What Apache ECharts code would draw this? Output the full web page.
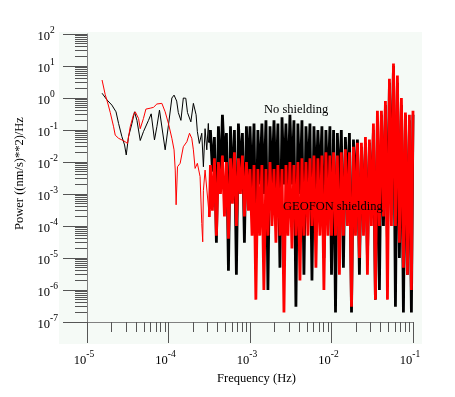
<!DOCTYPE html>
<html>
<head>
<meta charset="utf-8">
<script src="https://cdn.jsdelivr.net/npm/echarts@6/dist/echarts.min.js"></script>
<style>
html, body { margin: 0; padding: 0; background: #fff; }
#chart { width: 455px; height: 397px; }
</style>
</head>
<body>
<div id="chart"></div>
<script>
// ---- axis ticks ----
const xTicks = [1e-5, 1e-4, 1e-3, 1e-2, 1e-1];
const xTickExp = ['-5', '-4', '-3', '-2', '-1'];
const yTicks = [1e-7, 1e-6, 1e-5, 1e-4, 1e-3, 1e-2, 1e-1, 1e0, 1e1, 1e2];
const yTickExp = ['-7', '-6', '-5', '-4', '-3', '-2', '-1', '0', '1', '2'];
const minorMantissa = [2, 3, 4, 5, 6, 7, 8, 9];

// ---- low frequency part (smooth curves) ----
const blackLowFreq = [1.53e-5, 1.76e-5, 2.02e-5, 2.27e-5, 2.44e-5, 2.68e-5, 2.89e-5, 3.03e-5, 3.23e-5, 3.56e-5,
  3.83e-5, 4.1e-5, 4.5e-5, 4.93e-5, 5.68e-5, 6.13e-5, 6.73e-5, 7.2e-5, 7.75e-5, 9.1e-5,
  9.98e-5, 1.1e-4, 1.17e-4, 1.26e-4, 1.32e-4, 1.42e-4, 1.52e-4, 1.63e-4, 1.71e-4, 1.88e-4,
  2.02e-4, 2.18e-4, 2.26e-4, 2.39e-4, 2.56e-4, 2.68e-4, 2.81e-4, 2.95e-4, 3.08e-4, 3.17e-4];
const blackLowPow = [1.41, 0.87, 0.6, 0.37, 0.16, 0.062, 0.034, 0.0166, 0.062, 0.16,
  0.37, 0.2, 0.047, 0.089, 0.2, 0.32, 0.049, 0.126, 0.42, 0.024,
  0.14, 1.0, 1.23, 0.8, 0.35, 0.2, 1.0, 0.98, 0.35, 0.18,
  0.68, 0.3, 0.089, 0.038, 0.079, 0.0071, 0.11, 0.024, 0.16, 0.04];

const redLowFreq = [1.53e-5, 1.67e-5, 1.81e-5, 1.93e-5, 2.12e-5, 2.22e-5, 2.44e-5, 2.68e-5, 2.94e-5, 3.14e-5,
  3.39e-5, 3.72e-5, 3.91e-5, 4.29e-5, 4.5e-5, 4.93e-5, 5.28e-5, 5.96e-5, 6.54e-5, 7.2e-5,
  8.29e-5, 9.1e-5, 9.98e-5, 1.1e-4, 1.17e-4, 1.21e-4, 1.24e-4, 1.29e-4, 1.39e-4, 1.52e-4,
  1.68e-4, 1.81e-4, 1.93e-4, 2.02e-4, 2.12e-4, 2.26e-4, 2.44e-4, 2.56e-4, 2.63e-4, 2.68e-4,
  2.81e-4, 2.95e-4, 3.17e-4];
const redLowPow = [3.65, 1.3, 0.65, 0.35, 0.126, 0.069, 0.055, 0.049, 0.043, 0.038,
  0.126, 0.3, 0.37, 0.23, 0.11, 0.23, 0.45, 0.48, 0.51, 0.65,
  0.68, 0.37, 0.16, 0.055, 0.024, 0.0056, 4.6e-4, 0.0071, 0.0091, 0.03,
  0.043, 0.079, 0.055, 0.024, 0.0063, 0.0091, 0.0035, 1.2e-4, 3.2e-5, 0.0013,
  0.0056, 0.0063, 1.9e-4];

// ---- noisy band (peaks and troughs alternate) ----
const bandFreq = [
  3.27e-4, 3.46e-4, 3.66e-4, 3.87e-4, 4.10e-4, 4.34e-4, 4.59e-4, 4.86e-4, 5.14e-4, 5.44e-4,
  5.76e-4, 6.09e-4, 6.44e-4, 6.81e-4, 7.21e-4, 7.63e-4, 8.07e-4, 8.54e-4, 9.04e-4, 9.56e-4,
  1.00e-3, 1.06e-3, 1.12e-3, 1.18e-3, 1.25e-3, 1.32e-3, 1.40e-3, 1.48e-3, 1.57e-3, 1.66e-3,
  1.76e-3, 1.86e-3, 1.97e-3, 2.08e-3, 2.20e-3, 2.33e-3, 2.47e-3, 2.61e-3, 2.76e-3, 2.92e-3,
  3.09e-3, 3.27e-3, 3.46e-3, 3.66e-3, 3.87e-3, 4.10e-3, 4.34e-3, 4.59e-3, 4.86e-3, 5.14e-3,
  5.44e-3, 5.76e-3, 6.09e-3, 6.44e-3, 6.81e-3, 7.21e-3, 7.63e-3, 8.07e-3, 8.54e-3, 9.04e-3,
  9.56e-3,
  1.00e-2, 1.06e-2, 1.12e-2, 1.18e-2, 1.25e-2, 1.32e-2, 1.40e-2, 1.48e-2, 1.57e-2, 1.66e-2,
  1.76e-2, 1.86e-2, 1.97e-2, 2.08e-2, 2.20e-2, 2.33e-2, 2.47e-2, 2.61e-2, 2.76e-2, 2.92e-2,
  3.09e-2, 3.27e-2, 3.46e-2, 3.66e-2, 3.87e-2, 4.10e-2, 4.34e-2, 4.59e-2, 4.86e-2, 5.14e-2,
  5.44e-2, 5.76e-2, 6.09e-2, 6.44e-2, 6.81e-2, 7.21e-2, 7.63e-2, 8.07e-2, 8.54e-2, 9.04e-2,
  9.56e-2, 1.00e-1];

const blackBand = [
  1e-1, 5e-3, 6e-2, 3e-5, 1.3e-1, 2e-3, 3e-1, 1e-2, 8e-2, 4e-6,
  1.3e-1, 1e-3, 1e-1, 3e-6, 1.6e-1, 5e-3, 8e-2, 3e-5, 1.3e-1, 2e-3,
  1.3e-1, 1e-3, 1.6e-1, 1e-5, 1e-1, 2e-3, 1.6e-1, 1e-3, 2e-1, 1e-6,
  1.3e-1, 2e-3, 2e-1, 1e-3, 1.6e-1, 5e-6, 2.5e-1, 2e-3, 1.6e-1, 1e-3,
  3e-1, 2e-3, 2e-1, 3e-7, 1.6e-1, 1e-3, 2e-1, 3e-6, 1.3e-1, 2e-3,
  1.6e-1, 2e-6, 1.3e-1, 1e-3, 1e-1, 2e-3, 1.3e-1, 1e-5, 1e-1, 1e-3,
  1.3e-1,
  3e-6, 1e-1, 2e-7, 8e-2, 1e-3, 1e-1, 5e-6, 6e-2, 1e-3, 8e-2,
  2e-7, 5e-2, 1e-3, 5e-2, 3e-6, 3e-2, 1e-4, 4e-2, 1e-5, 4e-2,
  3e-4, 1e-1, 5e-7, 2e-1, 1e-6, 3e-1, 1e-4, 6e-1, 3e-5, 3,
  1e-3, 1e1, 3e-7, 3, 1e-5, 6e-1, 2e-7, 3e-1, 3e-6, 2e-1,
  2e-7, 3e-1];

const redBand = [
  8e-3, 3e-4, 1.3e-2, 5e-5, 1e-2, 1e-3, 1.6e-2, 2e-4, 1e-2, 4e-5,
  1.3e-2, 5e-4, 2e-2, 1e-4, 1.3e-2, 1e-3, 1.6e-2, 2e-4, 1e-2, 3e-4,
  6e-3, 5e-5, 8e-3, 5e-7, 6e-3, 5e-5, 8e-3, 1e-6, 6e-3, 5e-5,
  1e-2, 1e-4, 6e-3, 3e-5, 8e-3, 5e-5, 6e-3, 2e-7, 8e-3, 5e-5,
  1e-2, 2e-5, 8e-3, 5e-5, 1e-2, 2e-6, 1.3e-2, 5e-5, 1e-2, 5e-5,
  1.3e-2, 1e-4, 1.6e-2, 5e-6, 1.3e-2, 5e-5, 1.6e-2, 1e-6, 2e-2, 5e-5,
  1.6e-2,
  5e-5, 2e-2, 5e-5, 1.6e-2, 3e-6, 2e-2, 5e-5, 2.5e-2, 1e-4, 2e-2,
  3e-7, 3e-2, 5e-5, 4e-2, 1e-5, 4e-2, 5e-5, 6e-2, 3e-6, 5e-2,
  1e-4, 1.6e-1, 5e-7, 4e-1, 1e-4, 4e-1, 2e-4, 8e-1, 5e-7, 4,
  1e-4, 1.2e1, 1e-4, 5, 3e-5, 1, 5e-6, 3.5e-1, 3e-6, 3e-1,
  1e-6, 4e-1];

// ---- chart ----
const FONT = 'Liberation Serif';
const AXIS_GRAY = '#808080';
const TICK = '#555';

const minorOf = (decades) => decades.slice(0, -1).flatMap(d => minorMantissa.map(m => m * d));
const xMinor = minorOf(xTicks);
const yMinor = minorOf(yTicks);

const pairs = (freq, pow) => freq.map((f, i) => [f, pow[i]]);
const expFormatter = (ticks, exps) => (v) => {
  let k = 0;
  ticks.forEach((t, i) => { if (Math.abs(Math.log10(v) - Math.log10(t)) < 0.01) k = i; });
  return '{b|10}{e|' + exps[k] + '}';
};
const labelRich = {
  b: { fontFamily: FONT, fontSize: 12.5, color: '#000', lineHeight: 18, verticalAlign: 'bottom' },
  e: { fontFamily: FONT, fontSize: 9.5, color: '#000', verticalAlign: 'top' }
};

const lineSeries = (color, data, width, z) => ({
  type: 'line',
  data,
  showSymbol: false,
  symbol: 'none',
  silent: true,
  animation: false,
  z,
  lineStyle: { color, width, join: 'bevel' }
});

const blackLow = pairs(blackLowFreq, blackLowPow);
const redLow = pairs(redLowFreq, redLowPow);

const option = {
  animation: false,
  backgroundColor: '#ffffff',
  grid: { left: 87, right: 42, top: 34, bottom: 75 },
  graphic: [
    { type: 'rect', z: -100, silent: true, shape: { x: 59, y: 32, width: 363, height: 312 }, style: { fill: '#f5faf6' } },
    { type: 'text', x: 264, y: 109.5, z: 100, style: { text: 'No shielding', fill: '#000', font: '12.5px "Liberation Serif"', verticalAlign: 'middle' } },
    { type: 'text', x: 283, y: 206.5, z: 100, style: { text: 'GEOFON shielding', fill: '#000', font: '12.5px "Liberation Serif"', verticalAlign: 'middle' } }
  ],
  xAxis: [
    {
      type: 'log', min: 1e-5, max: 1e-1, position: 'bottom',
      name: 'Frequency (Hz)', nameLocation: 'middle', nameGap: 46,
      nameTextStyle: { fontFamily: FONT, fontSize: 12.5, color: '#000', padding: [0, 0, 0, 13] },
      axisLine: { show: true, onZero: false, lineStyle: { color: AXIS_GRAY } },
      axisTick: { show: true, length: 21, customValues: xTicks, lineStyle: { color: TICK } },
      axisLabel: { customValues: xTicks, margin: 27, padding: [0, 6, 0, 0], formatter: expFormatter(xTicks, xTickExp), rich: labelRich },
      splitLine: { show: false }
    },
    {
      type: 'log', min: 1e-5, max: 1e-1, position: 'bottom',
      axisLine: { show: false, onZero: false },
      axisTick: { show: true, length: 10, customValues: xMinor, lineStyle: { color: TICK } },
      axisLabel: { show: false },
      splitLine: { show: false }
    }
  ],
  yAxis: [
    {
      type: 'log', min: 1e-7, max: 1e2, position: 'left',
      name: 'Power ((nm/s)**2)/Hz', nameLocation: 'middle', nameRotate: 90, nameGap: 58,
      nameTextStyle: { fontFamily: FONT, fontSize: 12.5, color: '#000', padding: [0, 0, 0, 9] },
      axisLine: { show: true, onZero: false, lineStyle: { color: AXIS_GRAY } },
      axisTick: { show: true, length: 24, customValues: yTicks, lineStyle: { color: TICK } },
      axisLabel: { customValues: yTicks, margin: 49.5, align: 'left', formatter: expFormatter(yTicks, yTickExp), rich: labelRich },
      splitLine: { show: false }
    },
    {
      type: 'log', min: 1e-7, max: 1e2, position: 'left',
      axisLine: { show: false, onZero: false },
      axisTick: { show: true, length: 12, customValues: yMinor, lineStyle: { color: TICK } },
      axisLabel: { show: false },
      splitLine: { show: false }
    }
  ],
  series: [
    lineSeries('#000000', blackLow, 1, 2),
    lineSeries('#000000', [blackLow[blackLow.length - 1]].concat(pairs(bandFreq, blackBand)), 2.8, 2),
    lineSeries('#ff0000', redLow, 1, 3),
    lineSeries('#ff0000', [redLow[redLow.length - 1]].concat(pairs(bandFreq, redBand)), 2.8, 3)
  ]
};

const chart = echarts.init(document.getElementById('chart'));
chart.setOption(option);
</script>
</body>
</html>
